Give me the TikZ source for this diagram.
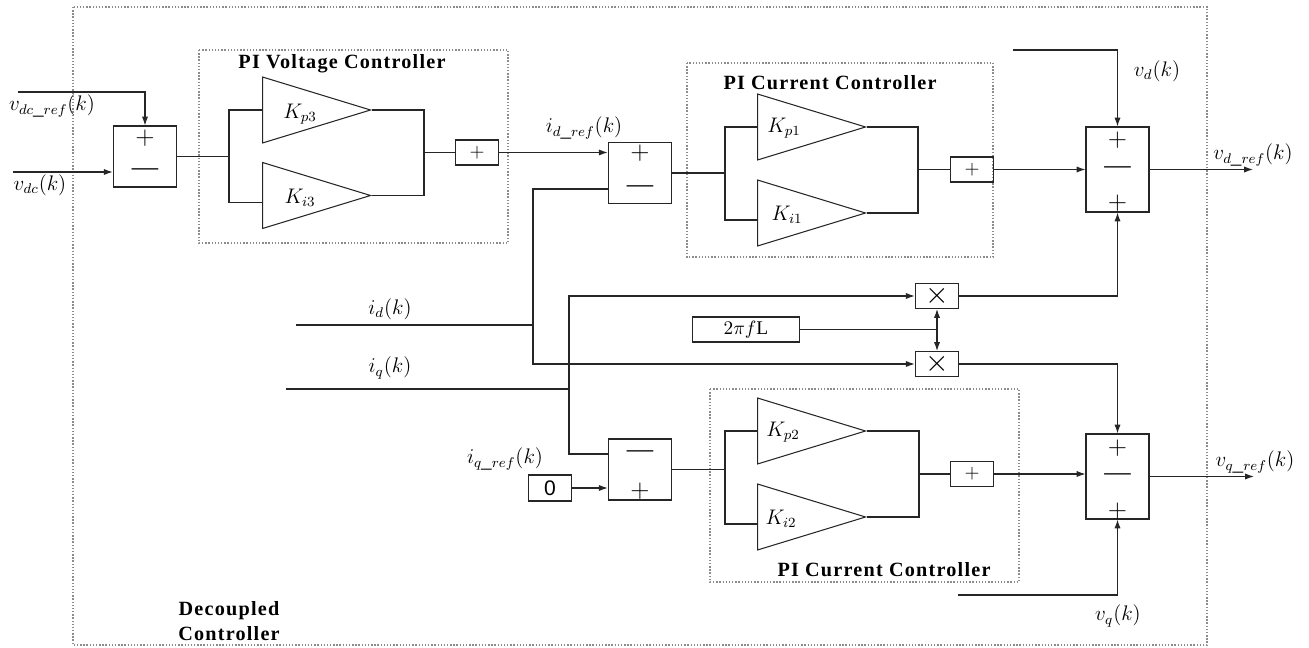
\documentclass[tikz,border=0pt]{standalone}
\usepackage{fontspec}
\setmainfont{Liberation Serif}
\newfontfamily\digitfont{Liberation Sans}
\usetikzlibrary{shapes.geometric}
\usetikzlibrary{arrows.meta}
\usetikzlibrary{positioning}
\tikzstyle{wire}=[draw=black!85, semithick]
\tikzstyle{signal}=[wire, -{Latex[length=5pt, width=3.5pt]}]
\tikzstyle{block}=[draw=black!85, semithick, inner sep=0]
\tikzstyle{sum block}=[block, minimum width=1.27cm, minimum height=1.22cm]
\tikzstyle{tall sum}=[block, minimum width=1.26cm, minimum height=1.7cm]
\tikzstyle{small block}=[block, minimum width=0.87cm, minimum height=0.5cm]
\tikzstyle{gain}=[draw=black!85, semithick, isosceles triangle, isosceles triangle stretches, minimum width=1.32cm, minimum height=2.16cm, inner sep=0, anchor=lower side]
\tikzstyle{frame}=[draw=black!45, densely dotted, thick]
\tikzstyle{sign}=[inner sep=0, font=\fontsize{15}{15}\selectfont]
\tikzstyle{signal label}=[inner sep=0, font=\fontsize{12}{14}\selectfont]
\tikzstyle{title}=[inner sep=0, align=center, font=\fontsize{11.5}{14}\selectfont\bfseries\addfontfeature{LetterSpace=6}]

\begin{document}
\begin{tikzpicture}[x=0.02cm, y=-0.02cm]
    \useasboundingbox (0,0) rectangle (1309,648);

    % controller frames
    \draw[frame] (73,7) rectangle (1207,645);
    \draw[frame] (199,50) rectangle (508,243);
    \draw[frame] (687,63) rectangle (993,257);
    \draw[frame] (710,389) rectangle (1019,582);
    \node[title] (vtitle) at (342,64) {PI Voltage Controller};
    \node[title] (ctitle_d) at (830,83) {PI Current Controller};
    \node[title] (ctitle_q) at (884,570) {PI Current Controller};
    \node[title] (dtitle) at (229,621) {Decoupled\\Controller};

    % summing blocks
    \node[sum block] (sum1) at (145,156.5) {};
    \node[sum block] (sum2) at (640,173) {};
    \node[sum block] (sum3) at (640,469.5) {};
    \node[tall sum] (sumd) at (1117.5,169.5) {};
    \node[tall sum] (sumq) at (1117.5,476.5) {};
    \node[sign] at (sum1 |- 0,138) {$+$};
    \node[sign] at (sum1 |- 0,172) {---};
    \node[sign] at (sum2 |- 0,153) {$+$};
    \node[sign] at (sum2 |- 0,189) {---};
    \node[sign] at (sum3 |- 0,454) {---};
    \node[sign] at (sum3 |- 0,491) {$+$};
    \node[sign] at (sumd |- 0,140) {$+$};
    \node[sign] at (sumd |- 0,170) {---};
    \node[sign] at (sumd |- 0,203) {$+$};
    \node[sign] at (sumq |- 0,448) {$+$};
    \node[sign] at (sumq |- 0,477) {---};
    \node[sign] at (sumq |- 0,511) {$+$};

    % gains
    \node[gain] (kp3) at (262,110) {};
    \node[gain] (ki3) at (262,195.5) {};
    \node[gain] (kp1) at (757,127) {};
    \node[gain] (ki1) at (757,213) {};
    \node[gain] (kp2) at (757,431) {};
    \node[gain] (ki2) at (757,517) {};
    \node[signal label] (kp3_lbl) at (300,114) {$K_{p3}$};
    \node[signal label] (ki3_lbl) at (300,198) {$K_{i3}$};
    \node[signal label] (kp1_lbl) at (784,128) {$K_{p1}$};
    \node[signal label] (ki1_lbl) at (787,215) {$K_{i1}$};
    \node[signal label] (kp2_lbl) at (783,432) {$K_{p2}$};
    \node[signal label] (ki2_lbl) at (781,519) {$K_{i2}$};

    % adders, multipliers and constants
    \node[small block] (addv) at (477,152.5) {\fontsize{11}{11}\selectfont$+$};
    \node[small block] (addd) at (972,169.5) {\fontsize{11}{11}\selectfont$+$};
    \node[small block] (addq) at (972,474) {\fontsize{11}{11}\selectfont$+$};
    \node[small block] (mula) at (937,296) {\fontsize{18}{18}\selectfont$\times$};
    \node[small block] (mulb) at (937,364) {\fontsize{18}{18}\selectfont$\times$};
    \node[small block, minimum width=2.14cm] (wl) at (746,329.5) {\fontsize{11}{11}\selectfont$2\pi f$L};
    \node[small block, minimum height=0.52cm] (zero) at (550,488) {\digitfont\fontsize{12}{12}\selectfont 0};

    % voltage loop
    \coordinate (vdcref_in) at (18,92);
    \coordinate (vdc_in) at (13,172);
    \draw[signal] (vdcref_in) -| (sum1.north);
    \draw[signal] (vdc_in) -- (vdc_in -| sum1.west);
    \node[signal label] (vdcref_lbl) at (52,106) {$v_{dc\_ref}(k)$};
    \node[signal label] (vdc_lbl) at (40,185) {$v_{dc}(k)$};
    \coordinate (vsplit) at (229,156.5);
    \coordinate (vmerge) at (424,152.5);
    \draw[wire] (sum1.east) -- (vsplit);
    \draw[wire] (kp3.lower side) -| (vsplit) |- ([yshift=-0.14cm]ki3.lower side);
    \draw[wire] (kp3.apex) -| (vmerge) |- (ki3.apex);
    \draw[wire] (vmerge) -- (addv.west);
    \draw[signal] (addv.east) -- (addv.east -| sum2.west);
    \node[signal label] (idref_lbl) at (584,128) {$i_{d\_ref}(k)$};

    % measured currents
    \coordinate (id_in) at (296,325);
    \coordinate (idjoin) at (533,325);
    \coordinate (idlow) at (533,364);
    \coordinate (iq_in) at (286,389);
    \coordinate (iqjoin) at (569,389);
    \draw[wire] (id_in) -- (idjoin);
    \draw[wire] (idjoin) |- (sum2.west |- 0,189);
    \draw[signal] (idjoin) -- (idlow) -- (mulb.west);
    \draw[wire] (iq_in) -- (iqjoin);
    \draw[signal] (iqjoin) |- (mula.west);
    \draw[wire] (iqjoin) |- (sum3.west |- 0,454);
    \node[signal label] (id_lbl) at (390,309) {$i_{d}(k)$};
    \node[signal label] (iq_lbl) at (390,368) {$i_{q}(k)$};
    \node[signal label] (iqref_lbl) at (505,459) {$i_{q\_ref}(k)$};
    \draw[signal] (zero.east) -- (zero.east -| sum3.west);

    % cross coupling
    \coordinate (wl_tap) at (wl.east -| mula.south);
    \draw[wire] (wl.east) -- (wl_tap);
    \draw[signal] (wl_tap) -- (mula.south);
    \draw[signal] (wl_tap) -- (mulb.north);
    \draw[signal] (mula.east) -| (sumd.south);
    \draw[signal] (mulb.east) -| (sumq.north);

    % d axis current loop
    \coordinate (dsplit) at (725,173);
    \coordinate (dmerge) at (918,169.5);
    \draw[wire] (sum2.east) -- (dsplit);
    \draw[wire] (kp1.lower side) -| (dsplit) |- ([yshift=-0.14cm]ki1.lower side);
    \draw[wire] (kp1.apex) -| (dmerge) |- (ki1.apex);
    \draw[wire] (dmerge) -- (addd.west);
    \draw[signal] (addd.east) -- (sumd.west);

    % q axis current loop
    \coordinate (qsplit) at (725,469.5);
    \coordinate (qmerge) at (919,474);
    \draw[wire] (sum3.east) -- (qsplit);
    \draw[wire] (kp2.lower side) -| (qsplit) |- ([yshift=-0.14cm]ki2.lower side);
    \draw[wire] (kp2.apex) -| (qmerge) |- (ki2.apex);
    \draw[wire] (qmerge) -- (addq.west);
    \draw[signal] (addq.east) -- (addq.east -| sumq.west);

    % feed forward voltages and outputs
    \coordinate (vd_in) at (1013,50);
    \coordinate (vq_in) at (958,595);
    \draw[signal] (vd_in) -| (sumd.north);
    \draw[signal] (vq_in) -| (sumq.south);
    \node[signal label] (vd_lbl) at (1157,71) {$v_{d}(k)$};
    \node[signal label] (vq_lbl) at (1118,616) {$v_{q}(k)$};
    \coordinate (vdref_out) at (1253,169.5);
    \coordinate (vqref_out) at (1254,476.5);
    \draw[signal] (sumd.east) -- (vdref_out);
    \draw[signal] (sumq.east) -- (vqref_out);
    \node[signal label] (vdref_lbl) at (1253,155) {$v_{d\_ref}(k)$};
    \node[signal label] (vqref_lbl) at (1255,462) {$v_{q\_ref}(k)$};
\end{tikzpicture}
\end{document}
